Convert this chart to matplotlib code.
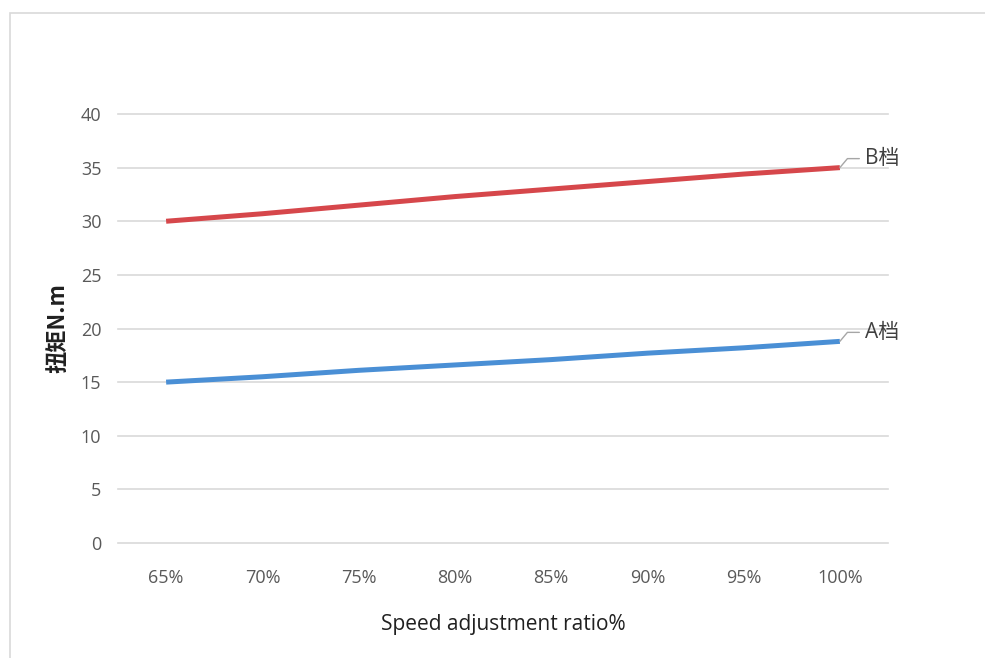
import matplotlib
matplotlib.use("Agg")
import matplotlib.pyplot as plt
from matplotlib.patches import Rectangle

categories = ["65%", "70%", "75%", "80%", "85%", "90%", "95%", "100%"]
series_b = [30.0, 30.7, 31.5, 32.3, 33.0, 33.7, 34.4, 35.0]
series_a = [15.0, 15.5, 16.1, 16.6, 17.1, 17.7, 18.2, 18.8]
yticks = [0, 5, 10, 15, 20, 25, 30, 35, 40]

plt.rcParams['font.family'] = ['Open Sans', 'Noto Sans CJK SC', 'DejaVu Sans']

W, H = 985, 658
fig = plt.figure(figsize=(W / 100, H / 100), dpi=100)
fig.patch.set_facecolor('white')

# outer light frame (cropped chart border)
fig.patches.append(Rectangle((10 / W, -0.1), 1.2, 1 - 13 / H + 0.1, transform=fig.transFigure,
                             fill=False, edgecolor='#D9D9D9', linewidth=1.2))

ax = fig.add_axes([118 / W, 115 / H, (888 - 118) / W, (543 - 114) / H])
ax.set_facecolor('none')
x = list(range(len(categories)))

ax.plot(x, series_b, color='#D6474B', linewidth=3.6, solid_capstyle='butt', zorder=3)
ax.plot(x, series_a, color='#4A8FD5', linewidth=3.6, solid_capstyle='butt', zorder=3)

ax.set_xlim(-0.5, len(categories) - 0.5)
ax.set_ylim(0, 40)
ax.set_yticks(yticks)
ax.set_yticklabels([str(v) for v in yticks])
ax.set_xticks(x)
ax.set_xticklabels(categories)
ax.grid(axis='y', color='#D9D9D9', linewidth=1.2)
for gl in ax.yaxis.get_gridlines():
    gl.set_clip_on(False)
ax.set_axisbelow(True)
for s in ax.spines.values():
    s.set_visible(False)
ax.tick_params(axis='both', length=0, colors='#595959', labelsize=13)
ax.tick_params(axis='y', pad=12)
ax.tick_params(axis='x', pad=19)

ax.set_xlabel("Speed adjustment ratio%", fontsize=15, color='#202020', labelpad=19)
ax.set_ylabel("扭矩N.m", fontsize=16, color='#202020', fontweight='bold',
              family=['Noto Sans CJK SC', 'DejaVu Sans'], labelpad=8)

for name, vals in (("B档", series_b), ("A档", series_a)):
    ax.annotate(name, xy=(x[-1], vals[-1]), xytext=(25, 9), textcoords='offset pixels',
                fontsize=15, color='#404040', va='center', ha='left',
                family=['Open Sans', 'Noto Sans CJK SC'],
                arrowprops=dict(arrowstyle='-', color='#A6A6A6', lw=1.0, shrinkA=2, shrinkB=0,
                                connectionstyle='angle,angleA=0,angleB=50,rad=0'))

fig.savefig("out.png", dpi=100, facecolor='white')
